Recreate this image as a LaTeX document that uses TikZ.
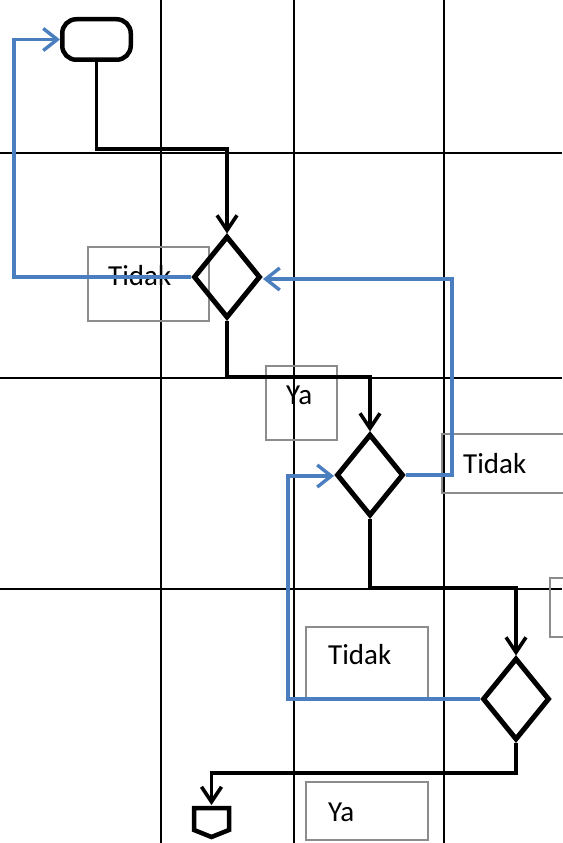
\documentclass[tikz,border=0pt]{standalone}
\usepackage{fontspec}
\setmainfont{Carlito}
\usetikzlibrary{arrows.meta,shapes.geometric}
\definecolor{flowblue}{HTML}{4A7EBF}
\definecolor{boxgray}{HTML}{8C8C8C}
\begin{document}
\begin{tikzpicture}[x=1pt,y=-1pt,
  gridline/.style={line width=1.6pt,black},
  flow/.style={line width=3.6pt,black,-{Straight Barb[length=15pt,width=20pt,line width=3.6pt]}},
  backflow/.style={line width=3.4pt,flowblue,-{Straight Barb[length=14pt,width=22pt,line width=3.4pt]}},
  decision/.style={diamond,draw,line width=5pt,inner sep=0pt,minimum width=67pt,minimum height=82pt},
  labelbox/.style={draw=boxgray,line width=1.6pt,inner sep=0pt},
  lbl/.style={anchor=base west,inner sep=0pt,font=\fontsize{29}{32}\selectfont}
]
\useasboundingbox (0,0) rectangle (562,843);
% lane grid
\draw[gridline] (161,0) -- (161,843);
\draw[gridline] (294,0) -- (294,843);
\draw[gridline] (444,0) -- (444,843);
\draw[gridline] (0,153) -- (562,153);
\draw[gridline] (0,378) -- (562,378);
\draw[gridline] (0,589) -- (562,589);
% label boxes
\node[labelbox,minimum width=121pt,minimum height=74pt] (bt1) at (148.5,284) {};
\node[labelbox,minimum width=71pt,minimum height=74pt] (by1) at (301.5,403) {};
\node[labelbox,minimum width=130pt,minimum height=59pt] (bt2) at (507,463.5) {};
\node[labelbox,minimum width=30pt,minimum height=59pt] (bx) at (565,607.5) {};
\node[labelbox,minimum width=122pt,minimum height=72pt] (bt3) at (367,663) {};
\node[labelbox,minimum width=122pt,minimum height=58pt] (by2) at (367,811) {};
% shapes
\node[draw,line width=4.5pt,rounded corners=14pt,minimum width=68.5pt,minimum height=40.5pt,inner sep=0pt] (start) at (96.5,39.5) {};
\node[decision] (d1) at (227,277) {};
\node[decision] (d2) at (370,475) {};
\node[decision] (d3) at (516,699) {};
\draw[line width=4.5pt,line join=miter] (194,808) -- (229,808) -- (229,830) -- (211.5,837) -- (194,830) -- cycle;
\coordinate (endc) at (211.5,805);
% texts
\node[lbl] (t1) at (108,285) {Tidak};
\node[lbl] (y1) at (286,404) {Ya};
\node[lbl] (t2) at (463,473) {Tidak};
\node[lbl] (t3) at (328,664) {Tidak};
\node[lbl] (y2) at (328,821) {Ya};
% flow connectors
\draw[flow] (start.south) -- (96.5,149) -| (d1.north);
\draw[flow] (d1.south) -- (227,377) -| (d2.north);
\draw[flow] (d2.south) -- (370,588) -| (d3.north);
\draw[flow] (d3.south) -- (516,773) -| (endc);
% back connectors
\draw[backflow] (d1.west) -- (14,277) -- (14,39.5) -- (start.west);
\draw[backflow] (d2.east) -- (452,475) -- (452,279) -- (d1.east |- 0,279);
\draw[backflow] (d3.west) -- (288,699) -- (288,476) -- (d2.west |- 0,476);
\end{tikzpicture}
\end{document}
